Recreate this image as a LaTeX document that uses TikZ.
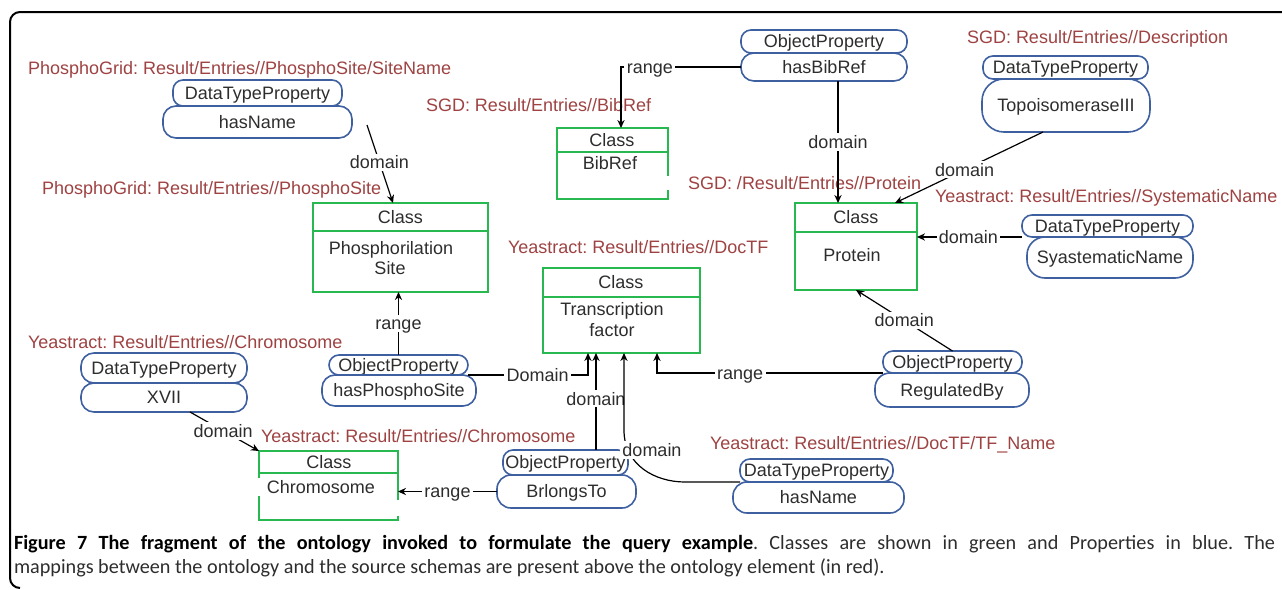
\documentclass[tikz,border=0pt]{standalone}
\usepackage{fontspec}
\setmainfont{Liberation Sans}
\newfontfamily\capfont{Carlito}
\usetikzlibrary{arrows.meta,calc}
\definecolor{mapred}{RGB}{158,66,66}
\definecolor{propblue}{RGB}{62,96,160}
\definecolor{classgreen}{RGB}{40,184,80}
\definecolor{ink}{RGB}{45,45,45}
\frenchspacing
\begin{document}
\begin{tikzpicture}[x=0.5pt,y=-0.5pt,
  font=\fontsize{9}{10}\selectfont\frenchspacing,
  every node/.style={inner sep=0pt, outer sep=0pt, text=ink},
  sz/.style 2 args={minimum width=#1*0.5pt, minimum height=#2*0.5pt},
  txt/.style={text height=6.45pt, text depth=0pt},
  propbox/.style={draw=propblue, line width=0.8pt, rounded corners=#1, txt},
  propbox/.default=5pt,
  classbox/.style={draw=classgreen, line width=0.9pt},
  mapping/.style={text=mapred, anchor=west, txt},
  conn/.style={draw=black, line width=0.6pt, -{Stealth[length=4pt,width=3.6pt]}},
  lbl/.style={fill=white, inner sep=1.2pt, txt}]
\useasboundingbox (0,0) rectangle (1282,590);

% outer frame
\draw[line width=1pt, rounded corners=5pt] (1300,12) -- (10,12) -- (10,588) -- (20,588);

% ---- property nodes (kind on top, name below)
\node[propbox, sz={169}{26}] (aT) at (257.5,93) {DataTypeProperty};
\node[propbox=6.5pt, sz={189}{32}] (aB) at (257.5,122) {hasName};

\node[propbox, sz={166}{23}] (bT) at (824,41.5) {ObjectProperty};
\node[propbox=6.5pt, sz={166}{28}] (bB) at (824,67) {hasBibRef};

\node[propbox, sz={165}{23}] (cT) at (1065.5,67.5) {DataTypeProperty};
\node[propbox=11pt, sz={168}{53}] (cB) at (1066,105.5) {TopoisomeraseIII};

\node[propbox, sz={171}{22}] (dT) at (1107.5,226) {DataTypeProperty};
\node[propbox=9pt, sz={166}{41}] (dB) at (1110,257.5) {SyastematicName};

\node[propbox, sz={139}{20}] (eT) at (398.5,365) {ObjectProperty};
\node[propbox=6.5pt, sz={154}{31}] (eB) at (399,390.5) {hasPhosphoSite};

\node[propbox=6.5pt, sz={166}{30}] (fT) at (164,368) {DataTypeProperty};
\node[propbox=6.5pt, sz={166}{29}] (fB) at (164,397.5) {XVII};

\node[propbox, sz={139}{22}] (gT) at (952.5,362) {ObjectProperty};
\node[propbox=7.5pt, sz={154}{34}] (gB) at (952,390) {RegulatedBy};

\node[propbox, sz={125}{25}] (hT) at (565.5,462.5) {ObjectProperty};
\node[propbox=7pt, sz={139}{33}] (hB) at (566.5,491.5) {BrlongsTo};

\node[propbox, sz={153}{23}] (iT) at (816.5,470.5) {DataTypeProperty};
\node[propbox=7pt, sz={171}{31}] (iB) at (818.5,497.5) {hasName};

% ---- class nodes
\node[classbox, sz={175}{89}] (cPhos) at (400.5,247.5) {};
\draw[classbox] ($(cPhos.north west)+(0,28)$) -- ($(cPhos.north east)+(0,28)$);
\node[txt] (cPhosH) at (400.5,217) {Class};
\node[txt] (cPhosB1) at (391,248) {Phosphorilation};
\node[txt] (cPhosB2) at (390,268) {Site};

\node[sz={111}{71}] (cBib) at (612.5,163.5) {};
\draw[classbox] ($(cBib.north east)+(0,48)$) -- (cBib.north east) -- (cBib.north west)
  -- (cBib.south west) -- (cBib.south east) -- ($(cBib.south east)+(0,-9)$);
\draw[classbox] ($(cBib.north west)+(0,24)$) -- ($(cBib.north east)+(0,24)$);
\node[txt] (cBibH) at (612,140) {Class};
\node[txt] (cBibB) at (610,163) {BibRef};

\node[classbox, sz={122}{87}] (cProt) at (856,246.5) {};
\draw[classbox] ($(cProt.north west)+(0,29)$) -- ($(cProt.north east)+(0,29)$);
\node[txt] (cProtH) at (856,217) {Class};
\node[txt] (cProtB) at (852,255) {Protein};

\node[classbox, sz={157}{85}] (cTF) at (621.5,310.5) {};
\draw[classbox] ($(cTF.north west)+(0,29)$) -- ($(cTF.north east)+(0,29)$);
\node[txt] (cTFH) at (621,282) {Class};
\node[txt] (cTFB1) at (612,309) {Transcription};
\node[txt] (cTFB2) at (612,330) {factor};

\node[sz={139}{69}] (cChr) at (328.5,485.5) {};
\draw[classbox] ($(cChr.north west)+(0,27)$) -- (cChr.north west) -- (cChr.north east)
  -- ($(cChr.north east)+(0,49)$);
\draw[classbox] ($(cChr.south west)+(0,-24)$) -- (cChr.south west) -- (cChr.south east)
  -- ($(cChr.south east)+(0,-4)$);
\draw[classbox] ($(cChr.north west)+(0,22)$) -- ($(cChr.north east)+(0,22)$);
\node[txt] (cChrH) at (329,462) {Class};
\node[txt] (cChrB) at (321,487) {Chromosome};

% ---- source mappings
\node[mapping] (m1) at (28,68) {PhosphoGrid: Result/Entries//PhosphoSite/SiteName};
\node[mapping] (m2) at (426,105) {SGD: Result/Entries//BibRef};
\node[mapping] (m3) at (42,188) {PhosphoGrid: Result/Entries//PhosphoSite};
\node[mapping] (m4) at (967,37) {SGD: Result/Entries//Description};
\node[mapping] (m5) at (688,183) {SGD: /Result/Entries//Protein};
\node[mapping] (m6) at (935,196) {Yeastract: Result/Entries//SystematicName};
\node[mapping] (m7) at (508,247) {Yeastract: Result/Entries//DocTF};
\node[mapping] (m8) at (28,342) {Yeastract: Result/Entries//Chromosome};
\node[mapping] (m9) at (261,436) {Yeastract: Result/Entries//Chromosome};
\node[mapping] (m10) at (710,443) {Yeastract: Result/Entries//DocTF/TF\_Name};

% ---- connectors
\draw[conn] ($(aB.east)+(15,3)$) -- node[lbl, pos=0.48]{domain} ($(cPhos.north)+(-7.5,0)$);
\draw[conn] (bB.west) -| node[lbl, pos=0.38]{range} ($(cBib.north)+(8.5,0)$);
\draw[conn] ($(bB.south)+(14,0)$) -- node[lbl]{domain} ($(cProt.north)+(-18,0)$);
\draw[conn] ($(cB.south)+(-23,0)$) -- node[lbl, pos=0.53]{domain} ($(cProt.north)+(39,0)$);
\draw[conn] (dT.south west) -- node[lbl, pos=0.51]{domain} (dT.south west -| cProt.east);
\draw[conn] (gT.north) -- node[lbl]{domain} (cProt.south);
\draw[conn] (gT.south west) -| node[lbl, pos=0.316]{range} ($(cTF.south)+(35.5,0)$);
\draw[conn] (eT.north) -- node[lbl]{range} (eT.north |- cPhos.south);
\draw[conn] (eT.south east) -| node[lbl, pos=0.29]{Domain} ($(cTF.south)+(-33.5,0)$);
\draw[conn] ($(hT.north)+(30.5,0)$) -- node[lbl, pos=0.53]{domain} ($(cTF.south)+(-25.5,0)$);
\draw[conn] (iT.south west) -- ($(iT.south west)+(-55,0)$)
  .. controls ($(iT.south west)+(-85,0)$) and ($(cTF.south)+(2.5,112)$) .. ($(cTF.south)+(2.5,77)$)
  -- ($(cTF.south)+(2.5,0)$);
\node[lbl] (lblI) at (652,450) {domain};
\draw[conn] (hB.west) -- node[lbl]{range} (hB.west -| cChr.east);
\draw[conn] ($(fB.south)+(26,0)$) -- node[lbl, pos=0.48]{domain} (cChr.north west);

% ---- caption
\node[anchor=base west, text width=630.5pt, align=justify,
      font=\capfont\fontsize{10.1}{12}\selectfont\frenchspacing, text=ink] (caption) at (14,549)
  {\textbf{\color{black}Figure 7 The fragment of the ontology invoked to formulate the query example}. Classes are shown in green and Properties in blue. The\linebreak mappings between the ontology and the source schemas are present above the ontology element (in red).};
\end{tikzpicture}
\end{document}
